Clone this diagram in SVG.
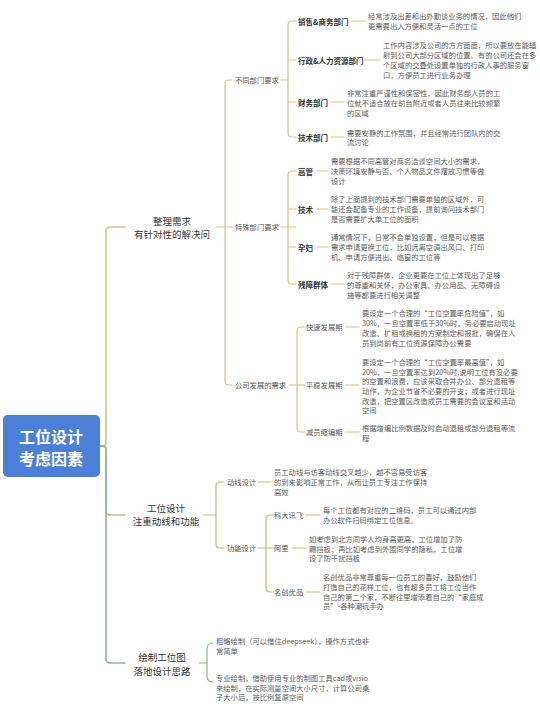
<svg xmlns="http://www.w3.org/2000/svg" width="540" height="720" viewBox="0 0 540 720">
<style>
text{font-family:"Noto Sans CJK SC","Noto Sans",sans-serif;dominant-baseline:central}
.root{font-size:16px;font-weight:bold;fill:#fff;text-anchor:middle}
.l1{font-size:9.5px;fill:#333;text-anchor:middle}
.l2{font-size:7.3px;fill:#555}
.lb{font-size:7.5px;fill:#333;font-weight:bold}
.d{font-size:7.3px;fill:#5c5c5c}
.c{fill:none;stroke-width:1.2;stroke-linecap:round}
.g{stroke:#d7c47f}
.o{stroke:#bcbf76}
.t{stroke:#86b996}
.tr{stroke-width:1.6}
</style>
<rect width="540" height="720" fill="#fff"/>
<g id="connectors">
<path class="c g tr" d="M100,446 H102 Q106,446 106,442 V231 Q106,227 110,227 H125"/>
<path class="c o tr" d="M100,446 H102 Q106,446 106,450 V511 Q106,515 110,515 H125"/>
<path class="c t tr" d="M100,446 H102 Q106,446 106,450 V659 Q106,663 110,663 H125"/>
<path class="c g" d="M216,227 H232 M232,80 H229 Q225,80 225,84 V381 Q225,385 229,385 H232"/>
<path class="c g" d="M281,80 H288 M296,21 H292 Q288,21 288,25 V133 Q288,137 292,137 H296 M288,60 H296 M288,102 H296"/>
<path class="c g" d="M281,227 H296 M296,171 H292 Q288,171 288,175 V280 Q288,284 292,284 H296 M288,209 H296 M288,247 H296"/>
<path class="c g" d="M289,385 H305 M305,327 H301 Q297,327 297,331 V428 Q297,432 301,432 H305"/>
<path class="c g" d="M352,21 H365 M365,60 H380 M331,102 H344 M331,137 H344 M317,171 H328 M317,209 H328 M317,247 H328 M331,284 H344 M346,327 H359 M346,385 H359 M346,432 H359"/>
<path class="c o" d="M203,515 H216 M224,482 H220 Q216,482 216,486 V544 Q216,548 220,548 H224"/>
<path class="c o" d="M258,482 H271 M258,548 H274 M274,515 H270 Q266,515 266,519 V588 Q266,592 270,592 H274 M306,515 H320 M292,548 H306 M306,592 H320"/>
<path class="c t" d="M199,663 H207 M213,643 Q207,643 207,649 V676 Q207,682 213,682"/>
</g>
<g id="root">
<rect x="3" y="415" width="97" height="62" rx="5" fill="#4a80d8"/>
<text class="root" x="51" y="436">工位设计</text>
<text class="root" x="51" y="458">考虑因素</text>
</g>
<g id="b1"><text class="l1" x="172" y="221">整理需求</text><text class="l1" x="172" y="234">有针对性的解决问</text></g>
<g id="b2"><text class="l1" x="166" y="508">工位设计</text><text class="l1" x="166" y="521">注重动线和功能</text></g>
<g id="b3"><text class="l1" x="162" y="657">绘制工位图</text><text class="l1" x="162" y="671">落地设计思路</text></g>
<g id="n-bumen"><text class="l2" x="235" y="80">不同部门要求</text></g>
<g id="n-teshu"><text class="l2" x="235" y="227">特殊部门要求</text></g>
<g id="n-fazhan"><text class="l2" x="235" y="385">公司发展的需求</text></g>
<g id="n-xiaoshou"><text class="lb" x="298" y="21">销售&amp;商务部门</text></g>
<g id="d-xiaoshou"><text class="d" x="368" y="16">经常涉及出差和出外勤谈业务的情况，因此他们</text><text class="d" x="368" y="26">更需要出入方便和灵活一点的工位</text></g>
<g id="n-xingzheng"><text class="lb" x="298" y="60">行政&amp;人力资源部门</text></g>
<g id="d-xingzheng"><text class="d" x="383" y="44.5">工作内容涉及公司的方方面面，所以要放在能辐</text><text class="d" x="383" y="54.5">射到公司大部分区域的位置。有的公司还会在多</text><text class="d" x="383" y="64.5">个区域的交叠处设置单独的行政人事的服务窗</text><text class="d" x="383" y="74.5">口，方便员工进行业务办理</text></g>
<g id="n-caiwu"><text class="lb" x="298" y="102">财务部门</text></g>
<g id="d-caiwu"><text class="d" x="347" y="93">非常注重严谨性和保密性，因此财务部人员的工</text><text class="d" x="347" y="103">位就不适合放在前台附近或者人员往来比较频繁</text><text class="d" x="347" y="113">的区域</text></g>
<g id="n-jishubm"><text class="lb" x="298" y="137">技术部门</text></g>
<g id="d-jishubm"><text class="d" x="347" y="133">需要安静的工作氛围，并且经常进行团队内的交</text><text class="d" x="347" y="142">流讨论</text></g>
<g id="n-gaoguan"><text class="lb" x="298" y="171">高管</text></g>
<g id="d-gaoguan"><text class="d" x="331" y="161">需要根据不同高管对商务洽谈空间大小的需求，</text><text class="d" x="331" y="171">决策环境安静与否、个人物品文件摆放习惯等做</text><text class="d" x="331" y="181">设计</text></g>
<g id="n-jishu"><text class="lb" x="298" y="209">技术</text></g>
<g id="d-jishu"><text class="d" x="331" y="199">除了上面提到的技术部门需要单独的区域外，可</text><text class="d" x="331" y="209">能还会配备专业的工作设备，提前询问技术部门</text><text class="d" x="331" y="219">是否需要扩大单工位的面积</text></g>
<g id="n-yunfu"><text class="lb" x="298" y="247">孕妇</text></g>
<g id="d-yunfu"><text class="d" x="331" y="237">通常情况下，日常不会单独设置，但是可以根据</text><text class="d" x="331" y="247">需求申请更换工位，比如远离空调出风口、打印</text><text class="d" x="331" y="257">机、申请方便进出、临窗的工位等</text></g>
<g id="n-canzhang"><text class="lb" x="298" y="284">残障群体</text></g>
<g id="d-canzhang"><text class="d" x="347" y="275">对于残障群体，企业更要在工位上体现出了足够</text><text class="d" x="347" y="285">的尊重和关怀，办公家具、办公用品、无障碍设</text><text class="d" x="347" y="295">施等都要进行相关调整</text></g>
<g id="n-kuaisu"><text class="l2" x="306" y="327">快速发展期</text></g>
<g id="d-kuaisu"><text class="d" x="362" y="313">要设定一个合理的“工位空置率危险值”，如</text><text class="d" x="362" y="323">30%，一旦空置率低于30%时，务必要启动现址</text><text class="d" x="362" y="333">改造、扩租或换租的方案制定和报批，确保在人</text><text class="d" x="362" y="343">员到岗前有工位资源保障办公需要</text></g>
<g id="n-pingwen"><text class="l2" x="306" y="385">平稳发展期</text></g>
<g id="d-pingwen"><text class="d" x="362" y="362">要设定一个合理的“工位空置率最高值”，如</text><text class="d" x="362" y="371.5">20%，一旦空置率达到20%时,说明工位有没必要</text><text class="d" x="362" y="381">的空置和浪费，应该采取合并办公、部分退租等</text><text class="d" x="362" y="391">动作，为企业节省不必要的开支；或者进行现址</text><text class="d" x="362" y="400.5">改造，把空置区改造成员工需要的会议室和活动</text><text class="d" x="362" y="410">空间</text></g>
<g id="n-jianyuan"><text class="l2" x="306" y="432">减员缩编期</text></g>
<g id="d-jianyuan"><text class="d" x="362" y="428">根据增编比例数据及时启动退租或部分退租等流</text><text class="d" x="362" y="438">程</text></g>
<g id="n-dongxian"><text class="l2" x="227" y="482">动线设计</text></g>
<g id="d-dongxian"><text class="d" x="274" y="472">员工动线与访客动线交叉越少，越不容易受访客</text><text class="d" x="274" y="482">的到来影响正常工作，从而让员工专注工作保持</text><text class="d" x="274" y="492">高效</text></g>
<g id="n-gongneng"><text class="l2" x="227" y="548">功能设计</text></g>
<g id="n-keda"><text class="l2" x="274" y="515">科大讯飞</text></g>
<g id="d-keda"><text class="d" x="323" y="509.5">每个工位都有对应的二维码，员工可以通过内部</text><text class="d" x="323" y="519.5">办公软件扫码绑定工位信息。</text></g>
<g id="n-ali"><text class="l2" x="274" y="548">阿里</text></g>
<g id="d-ali"><text class="d" x="309" y="539">如考虑到北方同学人均身高更高，工位增加了防</text><text class="d" x="309" y="548.5">踢挡板；再比如考虑到外围同学的隐私，工位增</text><text class="d" x="309" y="558">设了防干扰挡板</text></g>
<g id="n-mingchuang"><text class="l2" x="274" y="592">名创优品</text></g>
<g id="d-mingchuang"><text class="d" x="323" y="577">名创优品非常尊重每一位员工的喜好，鼓励他们</text><text class="d" x="323" y="587">打造自己的花样工位，也有超多员工将工位当作</text><text class="d" x="323" y="597">自己的第二个家，不断往里增添着自己的“家庭成</text><text class="d" x="323" y="606">员”-各种潮玩手办</text></g>
<g id="n-culue"><text class="d" x="216" y="641">粗略绘制（可以借住deepseek），操作方式也非</text><text class="d" x="216" y="651">常简单</text></g>
<g id="n-zhuanye"><text class="d" x="216" y="678">专业绘制，借助使用专业的制图工具cad或visio</text><text class="d" x="216" y="688">来绘制，在实际测量空间大小尺寸，计算公司桌</text><text class="d" x="216" y="697">子大小后，按比例复原空间</text></g>
</svg>
